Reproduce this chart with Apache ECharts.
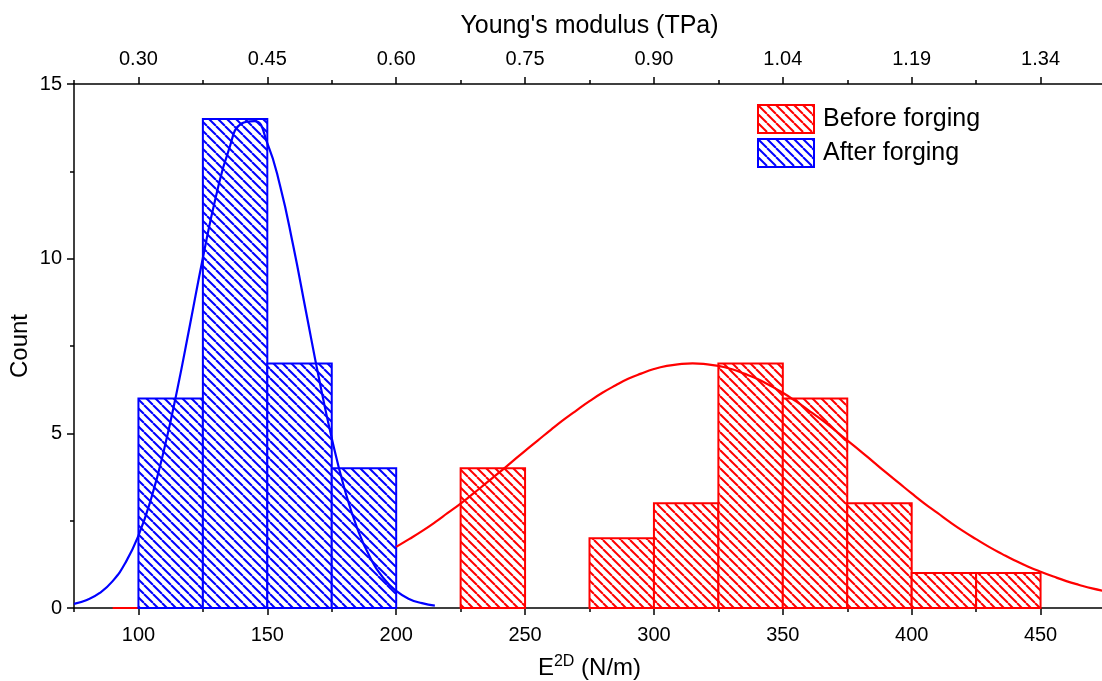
<!DOCTYPE html>
<html>
<head>
<meta charset="utf-8">
<script src="https://cdn.jsdelivr.net/npm/echarts@6/dist/echarts.min.js"></script>
<style>
html,body{margin:0;padding:0;background:#fff;}
#chart{width:1102px;height:681px;}
</style>
</head>
<body>
<div id="chart"></div>
<script>
// Histogram bins: [start, end, count] in N/m
const beforeBins = [
  [90, 100, 0],
  [225, 250, 4],
  [275, 300, 2],
  [300, 325, 3],
  [325, 350, 7],
  [350, 375, 6],
  [375, 400, 3],
  [400, 425, 1],
  [425, 450, 1]
];
const afterBins = [
  [100, 125, 6],
  [125, 150, 14],
  [150, 175, 7],
  [175, 200, 4]
];
// Fitted curves: x (N/m), y (count)
const afterCurveX = [75,80,85,90,95,100,105,110,115,120,125,130,135,140,145,150,155,160,165,170,175,180,185,190,195,200,205,210,215];
const afterCurveY = [0.12,0.23,0.43,0.77,1.30,2.07,3.15,4.55,6.23,8.11,10.02,11.76,13.10,13.87,13.94,13.31,12.07,10.39,8.49,6.59,4.86,3.40,2.26,1.43,0.86,0.49,0.26,0.14,0.07];
const beforeCurveX = [200,205,210,215,220,225,230,235,240,245,250,255,260,265,270,275,280,285,290,295,300,305,310,315,320,325,330,335,340,345,350,355,360,365,370,375,380,385,390,395,400,405,410,415,420,425,430,435,440,445,450,455,460,465,470,475];
const beforeCurveY = [1.75,1.97,2.20,2.45,2.72,2.99,3.28,3.58,3.88,4.19,4.50,4.80,5.10,5.39,5.66,5.92,6.16,6.37,6.56,6.71,6.84,6.93,6.98,7.00,6.98,6.93,6.84,6.71,6.56,6.37,6.16,5.92,5.66,5.39,5.10,4.80,4.50,4.19,3.88,3.58,3.28,2.99,2.72,2.45,2.20,1.97,1.75,1.55,1.36,1.19,1.04,0.90,0.77,0.66,0.56,0.48];
const majorTicks = [100,150,200,250,300,350,400,450];
const seriesNames = ['Before forging','After forging'];

function hatch(color){
  const n = 9;
  const c = document.createElement('canvas');
  c.width = n; c.height = n;
  const ctx = c.getContext('2d');
  ctx.fillStyle = '#fff';
  ctx.fillRect(0,0,n,n);
  ctx.strokeStyle = color;
  ctx.lineWidth = 2;
  for (let k=-1;k<=1;k++){
    ctx.beginPath();
    ctx.moveTo(k*n, 0);
    ctx.lineTo(k*n+n, n);
    ctx.stroke();
  }
  return {image: c, repeat: 'repeat'};
}
const RED = '#ff0000', BLUE = '#0000ff';
const redPat = hatch(RED), bluePat = hatch(BLUE);

function binRender(color, pat){
  return function(params, api){
    const x0 = api.value(0), x1 = api.value(1), c = api.value(2);
    const p0 = api.coord([x0, c]);
    const p1 = api.coord([x1, 0]);
    return {
      type: 'rect',
      shape: {x: p0[0], y: p0[1], width: p1[0]-p0[0], height: p1[1]-p0[1]},
      style: {fill: pat, stroke: color, lineWidth: 2}
    };
  };
}

const FONT = '"Liberation Sans", Arial, sans-serif';
const chart = echarts.init(document.getElementById('chart'));
const baseX = {type:'value', min:75, max:475, splitLine:{show:false}};
const option = {
  animation: false,
  textStyle: {fontFamily: FONT},
  grid: {left:74, top:84, width:1031, height:524, containLabel:false, outerBoundsMode:'none'},
  legend: {
    orient: 'vertical', left: 757, top: 104, itemWidth: 56, itemHeight: 28, itemGap: 4,
    padding: 0,
    textStyle: {fontSize: 25, color: '#000', fontFamily: FONT, padding: [0,0,0,4]},
    data: [
      {name: seriesNames[0], icon: 'rect', itemStyle: {color: redPat, borderColor: RED, borderWidth: 2}},
      {name: seriesNames[1], icon: 'rect', itemStyle: {color: bluePat, borderColor: BLUE, borderWidth: 2}}
    ]
  },
  xAxis: [
    Object.assign({}, baseX, {
      position: 'bottom',
      axisLine: {show: true, lineStyle: {color: '#000', width: 1.5}},
      axisTick: {show: true, inside: false, length: 7, customValues: majorTicks, lineStyle: {color:'#000', width: 1.5}},
      axisLabel: {show: true, customValues: majorTicks, fontSize: 20, color: '#000', margin: 17, fontFamily: FONT},
      name: '{a|E}{b|2D}{a| (N/m)}',
      nameLocation: 'middle', nameGap: 46,
      nameTextStyle: {rich: {a: {fontSize: 24, color: '#000', fontFamily: FONT}, b: {fontSize: 16, color: '#000', fontFamily: FONT, verticalAlign: 'top', padding: [0,0,12,0]}}}
    }),
    Object.assign({}, baseX, {
      position: 'bottom', interval: 50,
      axisLine: {show: false},
      axisTick: {show: true, inside: false, length: 4, lineStyle: {color:'#000', width: 1.5}},
      axisLabel: {show: false}
    }),
    Object.assign({}, baseX, {
      position: 'top',
      axisLine: {show: true, lineStyle: {color: '#000', width: 1.5}},
      axisTick: {show: true, inside: false, length: 7, customValues: majorTicks, lineStyle: {color:'#000', width: 1.5}},
      axisLabel: {show: true, customValues: majorTicks, fontSize: 20, color: '#000', margin: 15, fontFamily: FONT,
        formatter: function(v){ return (v/335).toFixed(2); }},
      name: "Young's modulus (TPa)",
      nameLocation: 'middle', nameGap: 45,
      nameTextStyle: {fontSize: 25, color: '#000', fontFamily: FONT}
    }),
    Object.assign({}, baseX, {
      position: 'top', interval: 50,
      axisLine: {show: false},
      axisTick: {show: true, inside: false, length: 4, lineStyle: {color:'#000', width: 1.5}},
      axisLabel: {show: false}
    })
  ],
  yAxis: [{
    type: 'value', min: 0, max: 15, interval: 5,
    axisLine: {show: true, lineStyle: {color: '#000', width: 1.5}},
    axisTick: {show: true, inside: false, length: 7, lineStyle: {color:'#000', width: 1.5}},
    minorTick: {show: true, splitNumber: 2, length: 4, lineStyle: {color:'#000', width: 1.5}},
    axisLabel: {fontSize: 20, color: '#000', margin: 12, fontFamily: FONT},
    splitLine: {show: false},
    name: 'Count', nameLocation: 'middle', nameGap: 42, nameRotate: 90, nameMoveOverlap: false,
    nameTextStyle: {fontSize: 24, color: '#000', fontFamily: FONT}
  }],
  series: [
    {
      name: seriesNames[0], type: 'custom', xAxisIndex: 0, yAxisIndex: 0,
      renderItem: binRender(RED, redPat),
      itemStyle: {color: redPat, borderColor: RED, borderWidth: 2},
      encode: {x: [0,1], y: 2},
      data: beforeBins, z: 2
    },
    {
      name: seriesNames[1], type: 'custom', xAxisIndex: 0, yAxisIndex: 0,
      renderItem: binRender(BLUE, bluePat),
      itemStyle: {color: bluePat, borderColor: BLUE, borderWidth: 2},
      encode: {x: [0,1], y: 2},
      data: afterBins, z: 2
    },
    {
      name: 'Before fit', type: 'line', xAxisIndex: 0, yAxisIndex: 0,
      data: beforeCurveX.map((x,i)=>[x, beforeCurveY[i]]),
      smooth: true, showSymbol: false, lineStyle: {color: RED, width: 2.2}, itemStyle:{color: RED}, z: 3, silent: true
    },
    {
      name: 'After fit', type: 'line', xAxisIndex: 0, yAxisIndex: 0,
      data: afterCurveX.map((x,i)=>[x, afterCurveY[i]]),
      smooth: true, showSymbol: false, lineStyle: {color: BLUE, width: 2.2}, itemStyle:{color: BLUE}, z: 3, silent: true
    }
  ]
};
chart.setOption(option);
</script>
</body>
</html>
